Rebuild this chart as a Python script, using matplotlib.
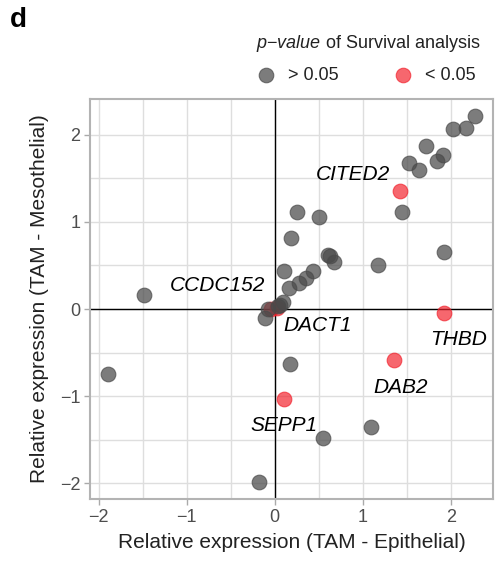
import matplotlib
matplotlib.use("Agg")
import matplotlib.pyplot as plt
from matplotlib.lines import Line2D
from matplotlib.ticker import MultipleLocator

plt.rcParams['font.family'] = ['Liberation Sans', 'DejaVu Sans']
plt.rcParams['mathtext.fontset'] = 'custom'
plt.rcParams['mathtext.it'] = 'Liberation Sans:italic'
plt.rcParams['mathtext.rm'] = 'Liberation Sans'

# non-significant genes (p > 0.05)
grey_x = [2.27, 2.02, 2.17, 1.72, 1.91, 1.84, 1.52, 1.64, 1.45, 0.25, 0.50, 0.18,
          1.92, 0.60, 0.63, 0.67, 1.17, 0.11, 0.44, 0.36, 0.28, 0.16, -1.49, 0.09,
          0.06, 0.04, -0.08, -0.11, 0.17, -1.89, 1.09, 0.55, -0.18]
grey_y = [2.21, 2.07, 2.08, 1.87, 1.77, 1.70, 1.67, 1.59, 1.11, 1.11, 1.06, 0.81,
          0.65, 0.62, 0.61, 0.54, 0.50, 0.44, 0.44, 0.36, 0.30, 0.24, 0.16, 0.08,
          0.05, 0.03, 0.00, -0.10, -0.63, -0.74, -1.35, -1.48, -1.99]
# significant genes (p < 0.05)
red_genes = ['CITED2', 'CCDC152', 'DACT1', 'THBD', 'DAB2', 'SEPP1']
red_x = [1.42, -0.04, 0.02, 1.92, 1.36, 0.11]
red_y = [1.36, 0.00, 0.01, -0.04, -0.59, -1.03]
# label positions
label_x = [0.89, -0.65, 0.49, 2.085, 1.43, 0.10]
label_y = [1.54, 0.27, -0.19, -0.35, -0.90, -1.34]

GREY = '#4a4a4a'
RED = '#f21f2a'

fig = plt.figure(figsize=(5.02, 5.61), dpi=100)
ax = fig.add_axes([90/502, 1-499/561, (493-90)/502, (499-99)/561])

ax.set_xlim(-2.10, 2.48)
ax.set_ylim(-2.18, 2.41)
ax.xaxis.set_major_locator(MultipleLocator(1))
ax.yaxis.set_major_locator(MultipleLocator(1))
ax.xaxis.set_minor_locator(MultipleLocator(0.5))
ax.yaxis.set_minor_locator(MultipleLocator(0.5))
ax.grid(True, which='both', color='#dedede', lw=1.0, zorder=0)
ax.set_axisbelow(True)
ax.tick_params(which='minor', length=0)
ax.tick_params(which='major', length=4, width=1, color='#aaaaaa',
               labelsize=13, labelcolor='#4d4d4d', pad=3)
for s in ax.spines.values():
    s.set_color('#b3b3b3')
    s.set_linewidth(1.5)

ax.axhline(0, color='black', lw=1, zorder=1)
ax.axvline(0, color='black', lw=1, zorder=1)

ax.scatter(red_x, red_y, s=112, facecolor=RED, edgecolor=RED, alpha=0.68,
           lw=0.8, zorder=2)
ax.scatter(grey_x, grey_y, s=112, facecolor=GREY, edgecolor=GREY, alpha=0.72,
           lw=0.8, zorder=3)

for g, lx, ly in zip(red_genes, label_x, label_y):
    ax.text(lx, ly, g, fontsize=15, style='italic', ha='center', va='center',
            color='black', zorder=4)

ax.set_xlabel('Relative expression (TAM - Epithelial)', fontsize=15,
              color='#222222', labelpad=5)
ax.set_ylabel('Relative expression (TAM - Mesothelial)', fontsize=15,
              color='#222222', labelpad=8)

fig.text(10/502, 1-20/561, 'd', fontsize=20, fontweight='bold', va='center', ha='left')
fig.text(256/502, 1-43/561, r'$\it{p{-}value}$ of Survival analysis', fontsize=13,
         va='center', ha='left', color='#222222')
fig.add_artist(Line2D([266/502], [1-75/561], marker='o', ms=10.5, mfc=GREY, mec=GREY,
                      alpha=0.72, mew=0.8, transform=fig.transFigure))
fig.add_artist(Line2D([403/502], [1-75/561], marker='o', ms=10.5, mfc=RED, mec=RED,
                      alpha=0.68, mew=0.8, transform=fig.transFigure))
fig.text(288/502, 1-75/561, '> 0.05', fontsize=13, va='center', ha='left', color='#222222')
fig.text(425/502, 1-75/561, '< 0.05', fontsize=13, va='center', ha='left', color='#222222')

fig.savefig('out.png', dpi=100)
